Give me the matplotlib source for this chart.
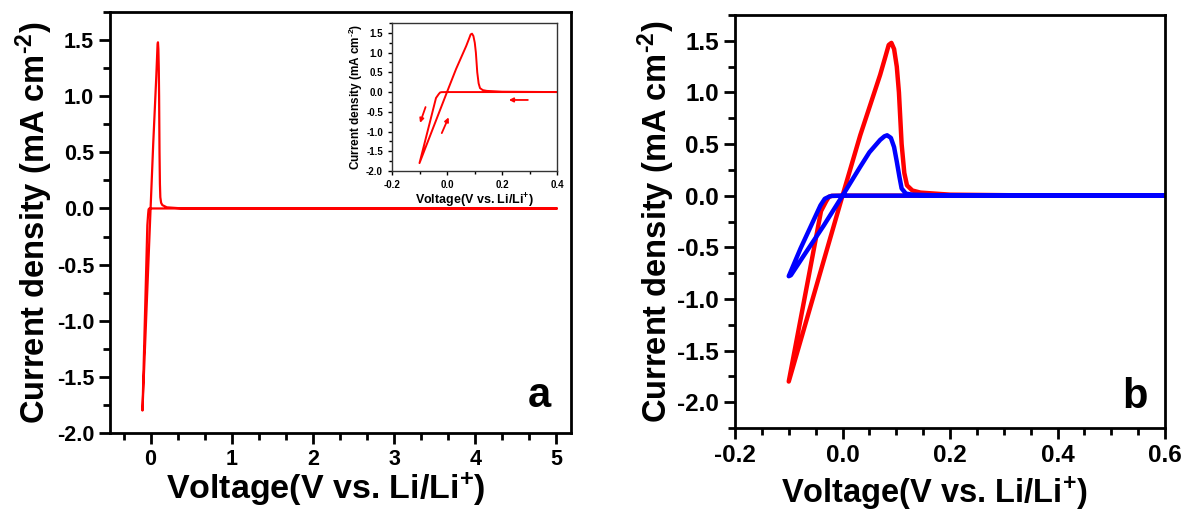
import matplotlib
matplotlib.use("Agg")
import matplotlib.pyplot as plt
from matplotlib.ticker import AutoMinorLocator

plt.rcParams['font.family'] = ['Liberation Sans', 'DejaVu Sans']
plt.rcParams['font.weight'] = 'bold'
plt.rcParams['mathtext.fontset'] = 'custom'
plt.rcParams['mathtext.rm'] = 'Liberation Sans:bold'
plt.rcParams['mathtext.bf'] = 'Liberation Sans:bold'
plt.rcParams['mathtext.default'] = 'bf'

# ---- data: red cycle (first electrode), voltage in V, current in mA cm-2 ----
red_v = [5.0, 0.5, 0.1, 0.0, -0.02, -0.025, -0.03, -0.04, -0.065, -0.1,
         -0.075, -0.05, -0.025, 0.0, 0.033, 0.07, 0.08, 0.086, 0.091, 0.096,
         0.101, 0.105, 0.110, 0.115, 0.12, 0.13, 0.145, 0.2, 0.4, 5.0]
red_i = [0.0, 0.0, 0.0, 0.0, -0.002, -0.01, -0.05, -0.15, -0.84, -1.8,
         -1.35, -0.9, -0.45, 0.0, 0.585, 1.17, 1.35, 1.46, 1.48, 1.42,
         1.25, 1.0, 0.5, 0.22, 0.1, 0.05, 0.03, 0.01, 0.0, 0.0]

# ---- data: blue cycle ----
blue_v = [0.6, 0.1, 0.0, -0.02, -0.025, -0.033, -0.041, -0.078, -0.1,
          -0.096, -0.072, -0.035, 0.0, 0.033, 0.05, 0.07, 0.078, 0.083, 0.09, 0.096,
          0.101, 0.106, 0.11, 0.118, 0.13, 0.2, 0.6]
blue_i = [0.0, 0.0, 0.0, -0.002, -0.01, -0.03, -0.094, -0.51, -0.78,
          -0.77, -0.58, -0.29, 0.0, 0.28, 0.42, 0.54, 0.575, 0.585, 0.56, 0.47,
          0.33, 0.18, 0.07, 0.02, 0.01, 0.0, 0.0]

# inset arrows (start, end) in data coordinates
arrows = [((-0.078, -0.38), (-0.098, -0.78)),
          ((-0.019, -1.04), (0.006, -0.64)),
          ((0.294, -0.2), (0.225, -0.2))]

xlabel = r'Voltage(V vs. Li/Li$^{+}$)'
ylabel = r'Current density (mA cm$^{\text{-2}}$)'

fig = plt.figure(figsize=(11.88, 5.12), dpi=100)

def style(ax, lw=2.0, major=8, minor=5, size=15):
    for s in ax.spines.values():
        s.set_linewidth(lw)
    ax.tick_params(which='both', direction='out', top=False, right=False, width=lw)
    ax.tick_params(which='major', length=major, labelsize=size)
    ax.tick_params(which='minor', length=minor)
    for lab in ax.get_xticklabels() + ax.get_yticklabels():
        lab.set_fontweight('bold')

# ---------- panel a ----------
axa = fig.add_axes([110/1188, 1-433/512, 461/1188, 421/512])
axa.plot(red_v, red_i, color='#ff0000', lw=1.6)
axa.set_xlim(-0.5, 5.18)
axa.set_ylim(-2.0, 1.75)
axa.set_xticks([0, 1, 2, 3, 4, 5])
axa.set_xticklabels(['0', '1', '2', '3', '4', '5'])
axa.set_yticks([-2.0, -1.5, -1.0, -0.5, 0.0, 0.5, 1.0, 1.5])
axa.set_yticklabels(['-2.0', '-1.5', '-1.0', '-0.5', '0.0', '0.5', '1.0', '1.5'])
axa.xaxis.set_minor_locator(AutoMinorLocator(3))
axa.yaxis.set_minor_locator(AutoMinorLocator(2))
style(axa, size=15.5)
axa.set_xlabel(xlabel, fontsize=24.5, fontweight='bold')
axa.xaxis.set_label_coords(0.469, -0.09)
axa.set_ylabel(ylabel, fontsize=23.5, fontweight='bold')
axa.yaxis.set_label_coords(-0.12, 0.5)
axa.text(0.957, 0.062, 'a', transform=axa.transAxes, fontsize=30,
         fontweight='bold', ha='right', va='baseline')

# ---------- inset ----------
axi = fig.add_axes([392/1188, 1-171/512, 165/1188, 148/512])
axi.plot(red_v, red_i, color='#ff0000', lw=1.4)
axi.set_xlim(-0.2, 0.4)
axi.set_ylim(-2.0, 1.75)
axi.set_xticks([-0.2, 0.0, 0.2, 0.4])
axi.set_xticklabels(['-0.2', '0.0', '0.2', '0.4'])
axi.set_yticks([-2.0, -1.5, -1.0, -0.5, 0.0, 0.5, 1.0, 1.5])
axi.set_yticklabels(['-2.0', '-1.5', '-1.0', '-0.5', '0.0', '0.5', '1.0', '1.5'])
axi.xaxis.set_minor_locator(AutoMinorLocator(2))
axi.yaxis.set_minor_locator(AutoMinorLocator(2))
style(axi, lw=1.0, major=3, minor=2, size=7)
for s in axi.spines.values():
    s.set_color('#333333')
axi.set_xlabel(xlabel, fontsize=9, fontweight='bold', labelpad=1)
axi.set_ylabel(ylabel, fontsize=8.5, fontweight='bold', labelpad=1)
for (x0, y0), (x1, y1) in arrows:
    axi.annotate('', xy=(x1, y1), xytext=(x0, y0),
                 arrowprops=dict(arrowstyle='-|>', color='#ff0000', lw=1.3,
                                 mutation_scale=6, shrinkA=0, shrinkB=0))

# ---------- panel b ----------
axb = fig.add_axes([735/1188, 1-428/512, 430/1188, 413/512])
axb.plot(red_v, red_i, color='#ff0000', lw=3.2)
axb.plot(blue_v, blue_i, color='#0000ff', lw=3.2)
axb.set_xlim(-0.2, 0.6)
axb.set_ylim(-2.25, 1.75)
axb.set_xticks([-0.2, 0.0, 0.2, 0.4, 0.6])
axb.set_xticklabels(['-0.2', '0.0', '0.2', '0.4', '0.6'])
axb.set_yticks([-2.0, -1.5, -1.0, -0.5, 0.0, 0.5, 1.0, 1.5])
axb.set_yticklabels(['-2.0', '-1.5', '-1.0', '-0.5', '0.0', '0.5', '1.0', '1.5'])
axb.xaxis.set_minor_locator(AutoMinorLocator(4))
axb.yaxis.set_minor_locator(AutoMinorLocator(2))
style(axb, size=17.5)
axb.set_xlabel(xlabel, fontsize=23.5, fontweight='bold')
axb.xaxis.set_label_coords(0.463, -0.113)
axb.set_ylabel(ylabel, fontsize=23.5, fontweight='bold')
axb.yaxis.set_label_coords(-0.136, 0.5)
axb.text(0.96, 0.048, 'b', transform=axb.transAxes, fontsize=30,
         fontweight='bold', ha='right', va='baseline')

fig.savefig('out.png', dpi=100)
